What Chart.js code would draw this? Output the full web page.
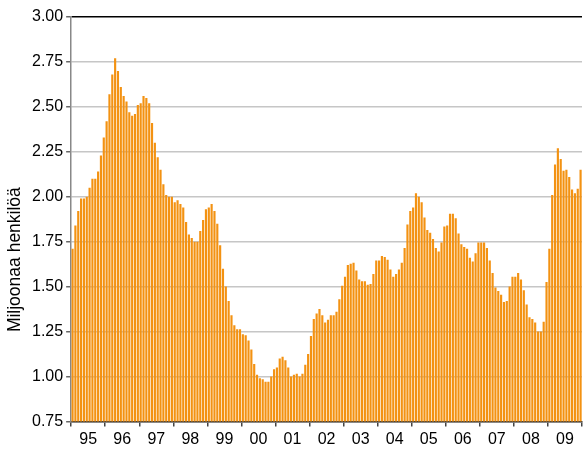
<!DOCTYPE html>
<html>
<head>
<meta charset="utf-8">
<script src="https://cdn.jsdelivr.net/npm/chart.js@4/dist/chart.umd.min.js"></script>
<style>
    html, body { margin: 0; padding: 0; background: #fff; }
</style>
</head>
<body>
<canvas id="chart" width="585" height="452"></canvas>
<script>
// Vuosien tunnukset (x-akseli)
const years = ['95', '96', '97', '98', '99', '00', '01', '02', '03', '04', '05', '06', '07', '08', '09'];

// Kuukausiarvot, miljoonaa henkilöä
const v1995 = [1.71, 1.84, 1.92, 1.99, 1.99, 2.00, 2.05, 2.10, 2.10, 2.14, 2.23, 2.33];
const v1996 = [2.42, 2.57, 2.68, 2.77, 2.70, 2.61, 2.56, 2.53, 2.47, 2.45, 2.46, 2.51];
const v1997 = [2.52, 2.56, 2.55, 2.52, 2.41, 2.30, 2.22, 2.15, 2.07, 2.01, 2.00, 2.00];
const v1998 = [1.97, 1.98, 1.96, 1.94, 1.86, 1.79, 1.77, 1.75, 1.75, 1.81, 1.87, 1.93];
const v1999 = [1.94, 1.96, 1.92, 1.85, 1.73, 1.60, 1.50, 1.42, 1.34, 1.285, 1.263, 1.263];
const v2000 = [1.235, 1.23, 1.20, 1.15, 1.07, 1.01, 0.99, 0.985, 0.97, 0.97, 1.00, 1.04];
const v2001 = [1.05, 1.10, 1.11, 1.09, 1.05, 1.00, 1.01, 1.015, 1.00, 1.015, 1.065, 1.125];
const v2002 = [1.225, 1.32, 1.35, 1.375, 1.34, 1.30, 1.315, 1.34, 1.34, 1.36, 1.43, 1.505];
const v2003 = [1.555, 1.62, 1.627, 1.633, 1.59, 1.54, 1.53, 1.53, 1.51, 1.515, 1.57, 1.645];
const v2004 = [1.645, 1.67, 1.665, 1.65, 1.595, 1.555, 1.57, 1.595, 1.633, 1.715, 1.845, 1.92];
const v2005 = [1.94, 2.02, 2.00, 1.97, 1.885, 1.815, 1.80, 1.765, 1.715, 1.695, 1.745, 1.835];
const v2006 = [1.84, 1.905, 1.905, 1.88, 1.795, 1.735, 1.72, 1.71, 1.66, 1.64, 1.685, 1.745];
const v2007 = [1.745, 1.745, 1.715, 1.645, 1.575, 1.495, 1.475, 1.455, 1.415, 1.42, 1.50, 1.555];
const v2008 = [1.555, 1.575, 1.54, 1.48, 1.40, 1.33, 1.32, 1.30, 1.25, 1.25, 1.305, 1.525];
const v2009 = [1.71, 2.01, 2.18, 2.27, 2.21, 2.145, 2.15, 2.11, 2.04, 2.02, 2.045, 2.15];

const values = [].concat(v1995, v1996, v1997, v1998, v1999, v2000, v2001, v2002,
    v2003, v2004, v2005, v2006, v2007, v2008, v2009);

// yksi luokka per kuukausi
const months = [];
years.forEach(y => {
    for (let m = 1; m <= 12; m++) months.push(y + '-' + m);
});

const yTitle = 'Miljoonaa henkilöä';
const barColor = '#f39212';
const gridColor = '#c6c6c6';
const fontFamily = 'Liberation Sans, Arial, sans-serif';

// y-akselin otsikko hieman keskikohdan alapuolelle, kuten alkuperäisessä
const yTitlePlugin = {
    id: 'yTitle',
    afterDraw(chart) {
        const area = chart.chartArea;
        const c = chart.ctx;
        c.save();
        c.translate(15, area.top + (area.bottom - area.top) * 0.6);
        c.rotate(-Math.PI / 2);
        c.font = '17.5px ' + fontFamily;
        c.fillStyle = '#000';
        c.textAlign = 'center';
        c.textBaseline = 'middle';
        c.fillText(yTitle, 0, 0);
        c.restore();
    }
};

const ctx = document.getElementById('chart').getContext('2d');
const chart = new Chart(ctx, {
    type: 'bar',
    data: {
        labels: months,
        datasets: [{
            data: values,
            backgroundColor: barColor,
            borderWidth: 0,
            barPercentage: 0.76,
            categoryPercentage: 1.0,
            xAxisID: 'x',
            yAxisID: 'y'
        }]
    },
    plugins: [yTitlePlugin],
    options: {
        responsive: false,
        animation: false,
        layout: { padding: { top: 17, right: 3, left: 29, bottom: 0 } },
        plugins: {
            legend: { display: false },
            tooltip: { enabled: false }
        },
        scales: {
            x: {
                weight: 0,
                grid: {
                    drawOnChartArea: false,
                    tickLength: 5,
                    lineWidth: 1.5,
                    color: c => (c.index === undefined || c.index % 12 === 0) ? '#444' : 'rgba(0,0,0,0)'
                },
                ticks: { display: false, autoSkip: false },
                border: { color: '#333', width: 1.5 }
            },
            years: {
                type: 'linear',
                position: 'bottom',
                weight: 1,
                offset: false,
                min: 0,
                max: years.length,
                afterBuildTicks: s => { s.ticks = years.map((y, i) => ({ value: i + 0.5 })); },
                grid: { display: false, drawTicks: false },
                border: { display: false },
                ticks: {
                    autoSkip: false,
                    maxRotation: 0,
                    padding: 6,
                    color: '#000',
                    font: { family: fontFamily, size: 16, lineHeight: 0.85 },
                    callback: (v, i) => years[i]
                }
            },
            y: {
                min: 0.75,
                max: 3.0,
                ticks: {
                    stepSize: 0.25,
                    padding: 3,
                    color: '#000',
                    font: { family: fontFamily, size: 16 },
                    callback: v => v.toFixed(2)
                },
                grid: {
                    color: c => c.tick && c.tick.value === 3 ? '#000' : gridColor,
                    lineWidth: 1.5,
                    tickColor: '#666',
                    tickLength: 5
                },
                border: { color: '#888', width: 1.5 }
            }
        }
    }
});
</script>
</body>
</html>
